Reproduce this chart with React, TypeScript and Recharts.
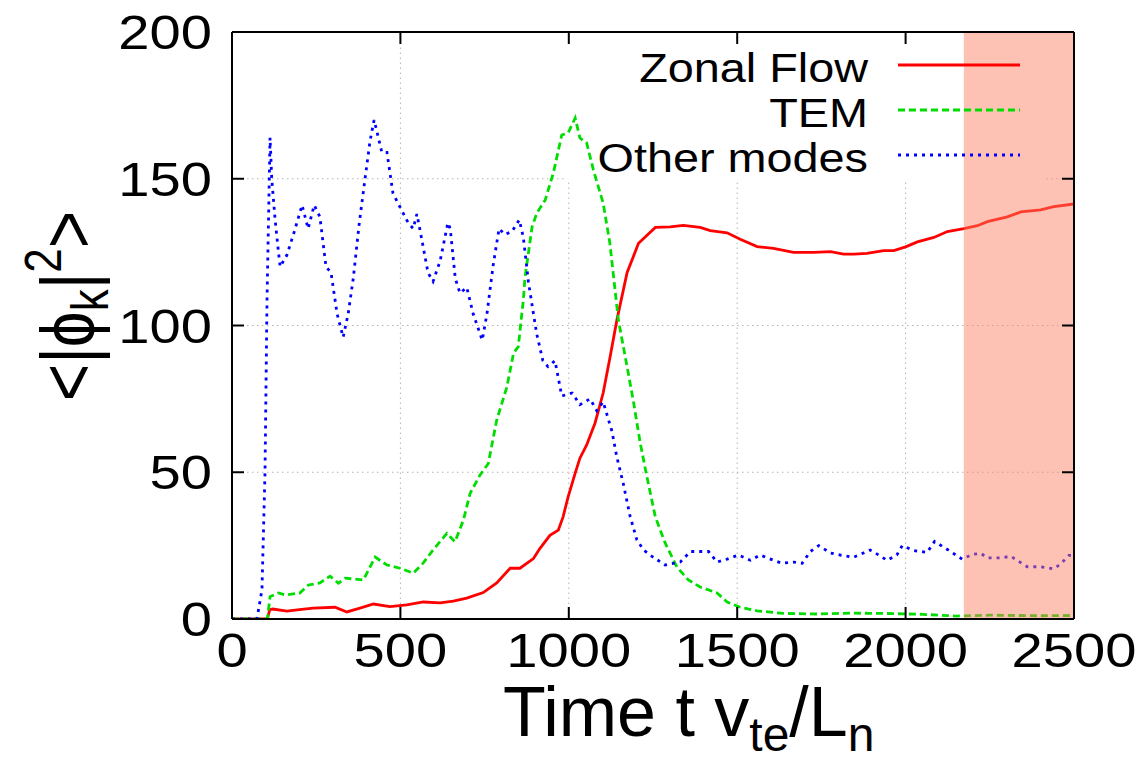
import React from "react";
import {
  LineChart,
  Line,
  XAxis,
  YAxis,
  ReferenceArea,
  ReferenceLine,
  Legend,
} from "recharts";

// ---------- data ----------
const X_TICKS = [0, 500, 1000, 1500, 2000, 2500];
const Y_TICKS = [0, 50, 100, 150, 200];

const ZONAL_FLOW: [number, number][] = [
  [0, 0], [105, 0], [112, 3.2], [121, 3.4], [163, 2.7], [200, 3.2], [241, 3.7],
  [306, 4], [341, 2.4], [380, 3.7], [420, 5.1], [469, 4.2], [519, 4.8], [568, 5.8],
  [618, 5.5], [657, 6.1], [697, 7.1], [746, 9], [786, 12.3], [826, 17.3], [855, 17.3],
  [895, 20.6], [914, 24], [944, 28.5], [969, 30.3], [983, 34.8], [998, 41.6],
  [1019, 49.7], [1033, 54.8], [1053, 59.3], [1078, 66.8], [1102, 77], [1122, 88.9],
  [1143, 102], [1173, 118], [1207, 128], [1257, 133.4], [1301, 133.6], [1340, 134.1],
  [1390, 133.4], [1420, 132.3], [1470, 131.6], [1509, 129.4], [1559, 126.9],
  [1608, 126.3], [1667, 124.9], [1727, 124.9], [1777, 125.2], [1816, 124.3],
  [1847, 124.3], [1885, 124.6], [1935, 125.5], [1965, 125.5], [2000, 126.8],
  [2035, 128.5], [2084, 130], [2124, 132], [2173, 133], [2213, 134], [2243, 135.4],
  [2302, 137], [2342, 138.7], [2401, 139.4], [2440, 140.5], [2500, 141.4],
];

const TEM: [number, number][] = [
  [0, 0], [105, 0], [113, 7.6], [138, 8.9], [158, 8.2], [202, 8.9], [227, 11.6],
  [261, 12.3], [291, 14.6], [316, 12.2], [336, 13.9], [366, 13.6], [390, 13.3],
  [425, 21.1], [460, 18.4], [499, 17.3], [538, 15.6], [568, 19.1], [597, 23.5],
  [638, 29.2], [662, 26.3], [687, 33.7], [707, 42.8], [736, 49], [761, 53],
  [786, 67.8], [816, 79], [836, 90.6], [850, 92.8], [865, 108.7], [870, 116.5],
  [891, 133.6], [905, 138.3], [930, 142.8], [954, 151.9], [979, 164.9], [998, 165.6],
  [1019, 170.7], [1033, 163.9], [1053, 162.2], [1073, 153], [1102, 141.7],
  [1122, 128], [1147, 102], [1173, 86], [1192, 74], [1212, 60], [1232, 48.4],
  [1257, 34.8], [1286, 25.9], [1321, 17.7], [1355, 13.3], [1390, 10.9], [1440, 8.9],
  [1470, 5.8], [1509, 4], [1559, 2.8], [1637, 1.9], [1737, 1.7], [1835, 2],
  [1935, 1.9], [2050, 1.6], [2150, 1], [2250, 1.3], [2400, 1.1], [2500, 1.2],
];

const OTHER_MODES: [number, number][] = [
  [0, 0], [74, 0], [89, 10], [98, 50], [104, 109], [113, 164], [118, 150],
  [128, 136], [138, 125], [143, 120], [163, 124], [185, 132], [208, 141], [226, 133],
  [244, 141], [261, 137], [279, 120], [294, 118], [312, 104], [330, 96], [345, 104],
  [360, 116], [378, 135], [395, 150], [410, 163], [422, 170], [445, 159], [460, 159],
  [478, 145], [505, 139], [523, 135], [538, 133], [549, 138], [564, 129], [582, 118],
  [597, 115], [618, 122], [641, 135], [648, 133], [663, 116], [677, 111], [697, 113],
  [716, 104], [743, 95], [757, 104], [776, 121], [793, 133], [810, 131], [831, 132],
  [853, 136], [865, 130], [880, 115], [895, 104], [905, 97], [923, 88], [938, 86],
  [959, 88], [979, 76], [1010, 77], [1033, 73], [1063, 75], [1083, 71], [1102, 74],
  [1128, 64], [1143, 55], [1162, 46], [1182, 35], [1202, 27], [1222, 23.5],
  [1251, 21], [1286, 18.4], [1331, 19.4], [1361, 23], [1390, 23], [1415, 23],
  [1440, 19.4], [1470, 20.4], [1504, 21.8], [1539, 20], [1568, 21.8], [1608, 20],
  [1633, 19], [1667, 19.4], [1693, 19], [1717, 23], [1742, 25], [1777, 22.5],
  [1806, 21.8], [1845, 21], [1875, 22.5], [1895, 23.5], [1920, 21.8], [1945, 20],
  [1974, 21.8], [1990, 25], [2025, 23.3], [2064, 22.7], [2086, 26.4], [2124, 23.7],
  [2168, 20.4], [2198, 22], [2223, 22.4], [2243, 20.8], [2282, 20.8], [2312, 21.4],
  [2361, 17.8], [2401, 17.8], [2440, 17.1], [2460, 18.7], [2485, 21.7], [2500, 21.7],
];

const SHADE_START = 2173;
const SERIES_NAMES = ["Zonal Flow", "TEM", "Other modes"];
// opaque key box (grid hidden behind it), in data units
const KEY_BOX = { x1: 989, x2: 2418, yBottom: 148.8 };

const toRows = (arr: [number, number][]) => arr.map(([t, v]) => ({ t, v }));
const zonalRows = toRows(ZONAL_FLOW);
const temRows = toRows(TEM);
const otherRows = toRows(OTHER_MODES);

const X_MIN = X_TICKS[0];
const X_MAX = X_TICKS[X_TICKS.length - 1];
const Y_MIN = Y_TICKS[0];
const Y_MAX = Y_TICKS[Y_TICKS.length - 1];

// grid segments built from the tick arrays, interrupted by the key box
const vGrid = X_TICKS.slice(1, -1).map((x) => {
  const inBox = x >= KEY_BOX.x1 && x <= KEY_BOX.x2;
  return [[{ x, y: Y_MIN }, { x, y: inBox ? KEY_BOX.yBottom : Y_MAX }]];
}).flat();
const hGrid = Y_TICKS.slice(1, -1).map((y) => {
  if (y >= KEY_BOX.yBottom) {
    return [
      [{ x: X_MIN, y }, { x: KEY_BOX.x1, y }],
      [{ x: KEY_BOX.x2, y }, { x: X_MAX, y }],
    ];
  }
  return [[{ x: X_MIN, y }, { x: X_MAX, y }]];
}).flat();
const gridSegments = [...vGrid, ...hGrid];

// ---------- layout / style ----------
const W = 1137;
const H = 751;
const AX = 1;
const M = { top: 24 - AX, right: 71 - AX, bottom: 140 - AX, left: 224 - AX };
const PL = 224;
const PT = 24;
const PR = W - 71;
const PB = H - 140;
const FONT = "'Liberation Sans', Arial, Helvetica, sans-serif";
const SX = 1.17;
const TICK = 12;

const XTick = (props: any) => {
  const { x, payload } = props;
  return (
    <g>
      <line x1={x} x2={x} y1={PB} y2={PB - TICK} stroke="#000" strokeWidth={2} />
      <text
        transform={`translate(${x},${PB + 48}) scale(${SX},1)`}
        textAnchor="middle"
        fontFamily={FONT}
        fontSize={48}
        fill="#000"
      >
        {payload.value}
      </text>
    </g>
  );
};

const XTopTick = (props: any) => {
  const { x } = props;
  return <line x1={x} x2={x} y1={PT} y2={PT + TICK} stroke="#000" strokeWidth={2} />;
};

const YTick = (props: any) => {
  const { y, payload } = props;
  return (
    <g>
      <line x1={PL} x2={PL + TICK} y1={y} y2={y} stroke="#000" strokeWidth={2} />
      <text
        transform={`translate(${PL - 20},${y + 17}) scale(${SX},1)`}
        textAnchor="end"
        fontFamily={FONT}
        fontSize={48}
        fill="#000"
      >
        {payload.value}
      </text>
    </g>
  );
};

const YRightTick = (props: any) => {
  const { y } = props;
  return <line x1={PR - TICK} x2={PR} y1={y} y2={y} stroke="#000" strokeWidth={2} />;
};

const LEGEND_STYLE = [
  { color: "#ff0000", dash: undefined as string | undefined },
  { color: "#00dd00", dash: "7 4" },
  { color: "#0000ff", dash: "3 5" },
];

const renderLegend = () => (
  <svg width={W} height={200} style={{ position: "absolute", left: 0, top: 0, overflow: "visible" }}>
    {SERIES_NAMES.map((name, i) => {
      const base = 74 + i * 45;
      return (
        <g key={name}>
          <text
            transform={`translate(860,${base}) scale(${SX},1)`}
            textAnchor="end"
            fontFamily={FONT}
            fontSize={40}
            fill="#000"
          >
            {name}
          </text>
          <line
            x1={890}
            x2={1012}
            y1={base - 17}
            y2={base - 17}
            stroke={LEGEND_STYLE[i].color}
            strokeWidth={2.8}
            strokeDasharray={LEGEND_STYLE[i].dash}
          />
        </g>
      );
    })}
  </svg>
);

export default function App() {
  return (
    <div style={{ position: "relative", width: W, height: H, background: "#fff" }}>
      <LineChart width={W} height={H} margin={M}>
        {gridSegments.map((seg, i) => (
          <ReferenceLine
            key={`g${i}`}
            segment={seg}
            stroke="#b4b4b4"
            strokeDasharray="1.5 3.5"
            strokeWidth={1}
          />
        ))}
        <Line
          data={zonalRows}
          dataKey="v"
          name={SERIES_NAMES[0]}
          type="linear"
          stroke="#ff0000"
          strokeWidth={2.8}
          dot={false}
          isAnimationActive={false}
        />
        <Line
          data={temRows}
          dataKey="v"
          name={SERIES_NAMES[1]}
          type="linear"
          stroke="#00dd00"
          strokeWidth={2.8}
          strokeDasharray="7 4"
          dot={false}
          isAnimationActive={false}
        />
        <Line
          data={otherRows}
          dataKey="v"
          name={SERIES_NAMES[2]}
          type="linear"
          stroke="#0000ff"
          strokeWidth={2.8}
          strokeDasharray="3 5"
          dot={false}
          isAnimationActive={false}
        />
        <ReferenceArea
          x1={SHADE_START}
          x2={X_MAX}
          y1={Y_MIN}
          y2={Y_MAX}
          fill="#fa8060"
          fillOpacity={0.48}
          stroke="none"
          zIndex={450}
        />
        <Legend
          layout="horizontal"
          verticalAlign="middle"
          align="center"
          content={renderLegend}
          wrapperStyle={{ left: 0, top: 0, width: W, height: 200, pointerEvents: "none" }}
        />
        <XAxis
          dataKey="t"
          type="number"
          domain={[X_MIN, X_MAX]}
          ticks={X_TICKS}
          interval={0}
          height={AX}
          allowDataOverflow
          tickLine={false}
          axisLine={{ stroke: "#000", strokeWidth: 2 }}
          tick={XTick}
        />
        <XAxis
          xAxisId="top"
          orientation="top"
          dataKey="t"
          type="number"
          domain={[X_MIN, X_MAX]}
          ticks={X_TICKS}
          interval={0}
          height={AX}
          allowDataOverflow
          tickLine={false}
          axisLine={{ stroke: "#000", strokeWidth: 2 }}
          tick={XTopTick}
        />
        <YAxis
          type="number"
          domain={[Y_MIN, Y_MAX]}
          ticks={Y_TICKS}
          interval={0}
          width={AX}
          allowDataOverflow
          tickLine={false}
          axisLine={{ stroke: "#000", strokeWidth: 2 }}
          tick={YTick}
        />
        <YAxis
          yAxisId="right"
          orientation="right"
          type="number"
          domain={[Y_MIN, Y_MAX]}
          ticks={Y_TICKS}
          interval={0}
          width={AX}
          allowDataOverflow
          tickLine={false}
          axisLine={{ stroke: "#000", strokeWidth: 2 }}
          tick={YRightTick}
        />
      </LineChart>
      <svg
        width={W}
        height={H}
        style={{ position: "absolute", left: 0, top: 0, pointerEvents: "none" }}
      >
        <text
          transform="translate(86,298) scale(1.18,1) rotate(-90)"
          textAnchor="middle"
          fontFamily={FONT}
          fontSize={64}
          fill="#000"
        >
          {"<|ϕ"}
          <tspan fontSize={44} dy={12}>k</tspan>
          <tspan dy={-12}>|</tspan>
          <tspan fontSize={44} dy={-28}>2</tspan>
          <tspan dy={28}>{">"}</tspan>
        </text>
        <text transform="translate(495,728)" fontFamily={FONT} fontSize={70} fill="#000">
          Time t v
          <tspan fontSize={48} dy={15}>te</tspan>
          <tspan fontSize={70} dy={-15}>/L</tspan>
          <tspan fontSize={48} dy={15}>n</tspan>
        </text>
      </svg>
    </div>
  );
}
